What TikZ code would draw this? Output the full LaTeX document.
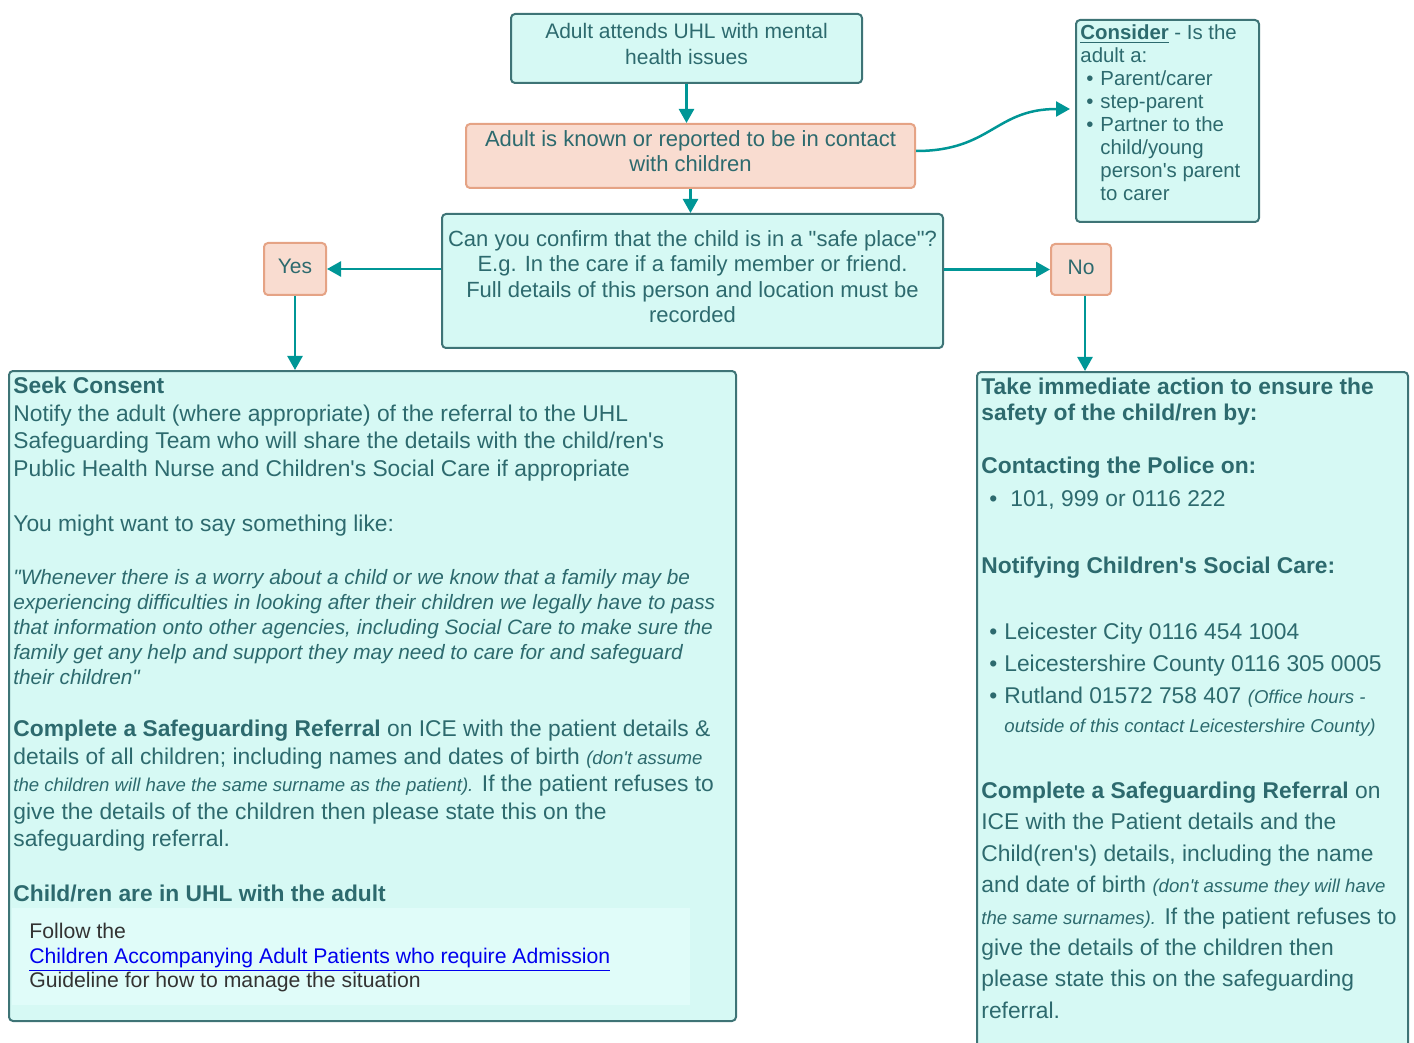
\documentclass[tikz,border=0pt]{standalone}
\usepackage{fontspec}
\setmainfont{Liberation Sans}[Ligatures=TeXOff]
\usetikzlibrary{arrows.meta,positioning,calc}
\definecolor{sgInk}{RGB}{45,106,110}
\definecolor{sgFill}{RGB}{214,249,244}
\definecolor{sgPale}{RGB}{224,252,249}
\definecolor{sgEdge}{RGB}{62,116,118}
\definecolor{sgArrow}{RGB}{0,150,150}
\definecolor{sgPeach}{RGB}{249,220,208}
\definecolor{sgPeachEdge}{RGB}{229,163,133}
\definecolor{sgLink}{RGB}{0,0,238}
\definecolor{sgDark}{RGB}{51,51,51}
\newcommand{\bulat}[2]{\makebox[#2][l]{\hspace*{#1}\textbullet}}
\newcommand{\smallit}[1]{{\fontsize{9.3}{11}\selectfont\itshape #1}}

\begin{document}
\begin{tikzpicture}[x=0.5pt,y=-0.5pt,
    box/.style={draw=sgEdge,fill=sgFill,line width=1pt,rounded corners=2pt,inner sep=0pt,anchor=north west},
    peach/.style={box,draw=sgPeachEdge,fill=sgPeach},
    boxtext/.style={inner sep=0pt,align=center,text=sgInk},
    para/.style={anchor=north west,inner sep=0pt,align=left,text=sgInk},
    arr/.style={draw=sgArrow,line width=1.25pt,-{Triangle[length=7pt,width=7.5pt]}}
  ]
  \useasboundingbox (0,0) rectangle (1414,1043);
  \clip (0,0) rectangle (1414,1043);

  \node[box,minimum width=175.5pt,minimum height=34.5pt] (attend) at (510,13) {};
  \node[boxtext,font=\fontsize{10.5}{13}\selectfont] (attendtxt) at ([yshift=2.5pt]attend.center) {Adult attends UHL with mental\\health issues};
  \node[peach,minimum width=224.5pt,minimum height=32pt] (known) at (465,123) {};
  \node[boxtext,font=\fontsize{11}{12.5}\selectfont] (knowntxt) at ([yshift=2.5pt]known.center) {Adult is known or reported to be in contact\\with children};
  \node[box,minimum width=250.5pt,minimum height=67pt] (confirm) at (441,213) {};
  \node[boxtext,font=\fontsize{11}{12.65}\selectfont] (confirmtxt) at ([yshift=2.2pt]confirm.center) {Can you confirm that the child is in a "safe place"?\\E.g. In the care if a family member or friend.\\Full details of this person and location must be\\recorded};
  \node[peach,minimum width=31pt,minimum height=26pt] (yes) at (263,242) {};
  \node[boxtext,font=\fontsize{10.5}{12}\selectfont] (yestxt) at ([yshift=1.5pt]yes.center) {Yes};
  \node[peach,minimum width=30pt,minimum height=25.5pt] (no) at (1050,243) {};
  \node[boxtext,font=\fontsize{10.5}{12}\selectfont] (notxt) at ([yshift=1pt]no.center) {No};

  \node[box,minimum width=91.5pt,minimum height=101pt] (consider) at (1075,19) {};
  \node[para,font=\fontsize{10.2}{11.5}\selectfont] (considertxt) at (1080,24.5) {\underline{\textbf{Consider}} - Is the\\adult a:\\\bulat{3pt}{10pt}Parent/carer\\\bulat{3pt}{10pt}step-parent\\\bulat{3pt}{10pt}Partner to the\\\hspace*{10pt}child/young\\\hspace*{10pt}person's parent\\\hspace*{10pt}to carer};

  \node[box,minimum width=363.5pt,minimum height=325pt] (seek) at (8,370) {};
  \node[para,font=\fontsize{11.4}{13.8}\selectfont] (consenttxt) at (13,376.6) {\textbf{Seek Consent}\\Notify the adult (where appropriate) of the referral to the UHL\\Safeguarding Team who will share the details with the child/ren's\\Public Health Nurse and Children's Social Care if appropriate\\[13.8pt]You might want to say something like:};
  \node[para,font=\fontsize{10.4}{12.5}\selectfont\itshape] (quotetxt) at (13,569.3) {"Whenever there is a worry about a child or we know that a family may be\\experiencing difficulties in looking after their children we legally have to pass\\that information onto other agencies, including Social Care to make sure the\\family get any help and support they may need to care for and safeguard\\their children"};
  \node[para,font=\fontsize{11.4}{13.75}\selectfont] (refertxt) at (13,719.6) {\textbf{Complete a Safeguarding Referral} on ICE with the patient details \&\\details of all children; including names and dates of birth \smallit{(don't assume}\\\smallit{the children will have the same surname as the patient).} If the patient refuses to\\give the details of the children then please state this on the\\safeguarding referral.\\[13.75pt]\textbf{Child/ren are in UHL with the adult}};
  \node[fill=sgPale,anchor=north west,inner sep=0pt,minimum width=339pt,minimum height=48.5pt] (guide) at (12,908) {};
  \node[para,text=sgDark,font=\fontsize{10.6}{12.25}\selectfont] (guidetxt) at (29,923) {Follow the\\\textcolor{sgLink}{\underline{Children Accompanying Adult Patients who require Admission}}\\Guideline for how to manage the situation};

  \node[box,minimum width=215.5pt,minimum height=345pt] (act) at (976,371) {};
  \node[para,font=\fontsize{11.4}{13}\selectfont\bfseries] (acttxt) at (981,377.6) {Take immediate action to ensure the\\safety of the child/ren by:};
  \node[para,font=\fontsize{11.4}{16.67}\selectfont] (policetxt) at (981,456.6) {\textbf{Contacting the Police on:}\\\bulat{4pt}{14.5pt}101, 999 or 0116 222\\[16.67pt]\textbf{Notifying Children's Social Care:}};
  \node[para,font=\fontsize{11.4}{16}\selectfont] (caretxt) at (981,622.6) {\bulat{4pt}{11.5pt}Leicester City 0116 454 1004\\\bulat{4pt}{11.5pt}Leicestershire County 0116 305 0005\\\bulat{4pt}{11.5pt}Rutland 01572 758 407 \smallit{(Office hours -}\\[-1.5pt]\hspace*{11.5pt}\smallit{outside of this contact Leicestershire County)}};
  \node[para,font=\fontsize{11.4}{15.7}\selectfont] (refer2txt) at (981,781.6) {\textbf{Complete a Safeguarding Referral} on\\ICE with the Patient details and the\\Child(ren's) details, including the name\\and date of birth \smallit{(don't assume they will have}\\\smallit{the same surnames).} If the patient refuses to\\give the details of the children then\\please state this on the safeguarding\\referral.};

  \draw[arr] (attend.south) -- (attend.south |- known.north);
  \draw[arr] (known.south) -- (known.south |- confirm.north);
  \draw[arr] (confirm.west |- yes.east) -- (yes.east);
  \draw[arr] (confirm.east |- no.west) -- (no.west);
  \draw[arr] (yes.south) -- (yes.south |- seek.north);
  \draw[arr] ([xshift=2pt]no.south) -- ([xshift=2pt]no.south |- act.north);
  \draw[arr] ([yshift=2.5pt]known.east) to[out=0,in=180,looseness=1.2] ([xshift=-2.5pt,yshift=6pt]consider.west);
\end{tikzpicture}
\end{document}
